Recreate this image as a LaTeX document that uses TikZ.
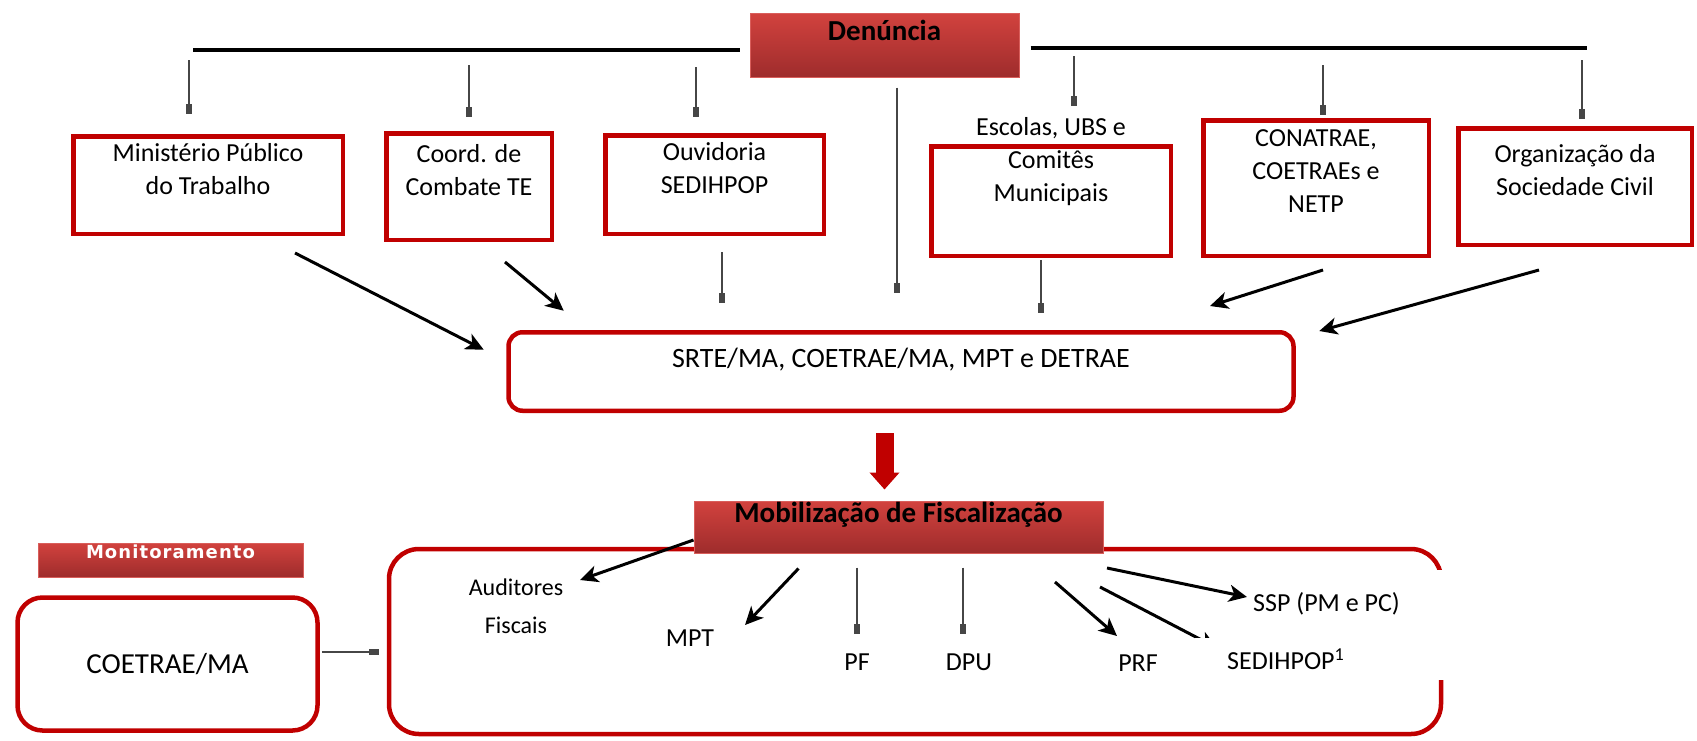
\documentclass[tikz,border=0pt]{standalone}
\usepackage{fontspec}
\setmainfont{Carlito}
\newfontfamily\widefont[LetterSpace=6]{DejaVu Sans}
\usetikzlibrary{positioning, arrows.meta, calc, backgrounds}
\definecolor{boxred}{RGB}{192,0,0}
\definecolor{hired}{RGB}{210,66,62}
\definecolor{lored}{RGB}{158,44,44}
\definecolor{tickgray}{RGB}{70,70,70}
\tikzset{
  redbox/.style={draw=boxred, line width=4.5pt, inner sep=0pt, align=center,
    font=\fontsize{26}{33}\selectfont},
  titlebox/.style={top color=hired, bottom color=lored, draw=hired!85!white,
    line width=1pt, inner sep=0pt, font=\fontsize{29}{34}\selectfont\bfseries},
  lbl/.style={inner sep=0pt, align=center, font=\fontsize{26}{33}\selectfont},
  arr/.style={-{Stealth[length=18pt,width=17pt,inset=5pt]}, line width=3pt},
  tick/.style={-{Rectangle[length=10pt,width=6pt]}, line width=2pt, draw=tickgray},
  hline/.style={line width=3.5pt},
  bigarrow/.style={-{Triangle[length=17pt,width=29pt]}, line width=18pt, draw=boxred},
}

\begin{document}
\begin{tikzpicture}[x=1pt, y=-1pt]
\useasboundingbox (0,0) rectangle (1697,740);

\node[titlebox, minimum width=269pt, text height=27pt, text depth=37pt] (den) at (884.5,45) {Denúncia};
\coordinate (lend) at (193,50);
\coordinate (rend) at (1587,48);

\node[redbox, minimum width=269.5pt, minimum height=97.5pt] (mpt) at (208,185) {Ministério Público\\do Trabalho\\~};
\node[redbox, minimum width=165.5pt, minimum height=106.5pt] (coord) at (469,186.5) {Coord. de\\Combate TE\\~};
\node[redbox, minimum width=218.5pt, minimum height=98.5pt] (ouv) at (714.5,184.5) {Ouvidoria\\SEDIHPOP\\~};
\node[redbox, minimum width=239.5pt, minimum height=109.5pt] (esc) at (1051,201) {};
\node[lbl] (esct) at (1051,162) {Escolas, UBS e\\Comitês\\Municipais};
\node[redbox, minimum width=225.5pt, minimum height=135.5pt] (conat) at (1316,188) {CONATRAE,\\COETRAEs e\\NETP\\~};
\node[redbox, minimum width=233.5pt, minimum height=116.5pt] (org) at (1575,186.5) {Organização da\\Sociedade Civil\\~};

\node[redbox, rounded corners=14pt, minimum width=785pt, text height=35pt, text depth=43.5pt,
  font=\fontsize{28}{34}\selectfont] (srte) at (901,371.5) {SRTE/MA, COETRAE/MA, MPT e DETRAE};

\node[draw=boxred, line width=4.5pt, rounded corners=30pt, minimum width=1052pt,
  minimum height=185pt] (cont) at (915,641.5) {};
\node[titlebox, minimum width=409pt, text height=21pt, text depth=31pt] (mob) at (898.5,527) {Mobilização de Fiscalização};
\node[titlebox, minimum width=265pt, text height=15pt, text depth=19pt, text=white,
  font=\widefont\bfseries\fontsize{18}{20}\selectfont] (mon) at (170.5,560) {Monitoramento};
\node[redbox, rounded corners=25pt, minimum width=300pt, minimum height=133pt,
  font=\fontsize{29}{34}\selectfont] (coet) at (167.5,664) {COETRAE/MA};

\node[lbl, font=\fontsize{24}{38}\selectfont] (aud) at (516,606) {Auditores\\Fiscais};
\node[lbl] (mptl) at (690,638) {MPT};
\node[lbl] (pf) at (857,662) {PF};
\node[lbl] (dpu) at (969,662) {DPU};
\node[lbl] (prf) at (1138,663) {PRF};
\node[lbl, anchor=west, fill=white, text width=189pt, inner xsep=3pt, minimum height=68pt,
  align=flush left] (ssp) at (1250,604) {SSP (PM e PC)};
\node[lbl, anchor=west, fill=white, text width=187pt, inner xsep=32pt, minimum height=42pt,
  align=flush left] (sed) at (1195,659) {SEDIHPOP\textsuperscript{1}};

\draw[hline] ($(den.west)+(-10,5)$) -- (lend);
\draw[hline] ($(den.east)+(11,3)$) -- (rend);

\draw[tick] ($(mpt.north |- lend)+(-19,10)$) -- ($(mpt.north)+(-19,-20)$);
\draw[tick] ($(coord.north |- lend)+(0,15)$) -- ($(coord.north)+(0,-14)$);
\draw[tick] ($(ouv.north |- lend)+(-18.5,17)$) -- ($(ouv.north)+(-18.5,-16)$);
\draw[tick] ($(esc.north |- rend)+(23,8)$) -- ($(esc.north)+(23,-38)$);
\draw[tick] ($(conat.north |- rend)+(7,17)$) -- ($(conat.north)+(7,-3)$);
\draw[tick] ($(org.north |- rend)+(7,12)$) -- ($(org.north)+(7,-7)$);

\draw[arr] ($(mpt.south)+(87,17)$) -- ($(srte.north west)+(-22.5,19.75)$);
\draw[arr] ($(coord.south)+(36,20)$) -- ($(srte.north west)+(57.5,-19.25)$);
\draw[tick] ($(ouv.south)+(7.5,16)$) -- ($(ouv.south |- srte.north)+(7.5,-27)$);
\draw[tick] ($(den.south)+(12.5,10)$) -- ($(den.south |- srte.north)+(12.5,-37)$);
\draw[tick] ($(esc.south)+(-10,2)$) -- ($(esc.south |- srte.north)+(-10,-17)$);
\draw[arr] ($(conat.south)+(7,12)$) -- ($(srte.north)+(309,-24)$);
\draw[arr] ($(org.south)+(-36,23)$) -- ($(srte.north east)+(23.5,1)$);

\draw[bigarrow, shorten <=20pt, shorten >=11pt] (den |- srte.south) -- (den |- mob.north);

\draw[tick] ($(coet.east)+(2,-12)$) -- ($(cont.west)+(-8,10.5)$);
\draw[arr] ($(mob.west)+(0,13)$) -- ($(aud)+(64,-26)$);
\draw[arr] ($(mob.south)+(-100,15)$) -- ($(mptl)+(55,-13)$);
\draw[tick] ($(pf |- mob.south)+(0,14)$) -- ($(pf)+(0,-28)$);
\draw[tick] ($(dpu |- mob.south)+(-6,14)$) -- ($(dpu)+(-6,-28)$);
\draw[arr] ($(prf)+(-83,-81)$) -- ($(prf)+(-21,-27)$);
\draw[arr] ($(ssp.west)+(-143,-36)$) -- ($(ssp.west)+(-3,-7)$);
\begin{scope}[on background layer]
\draw[arr] ($(sed.west)+(-95,-72)$) -- ($(sed.west)+(22,-11)$);
\end{scope}

\end{tikzpicture}
\end{document}
